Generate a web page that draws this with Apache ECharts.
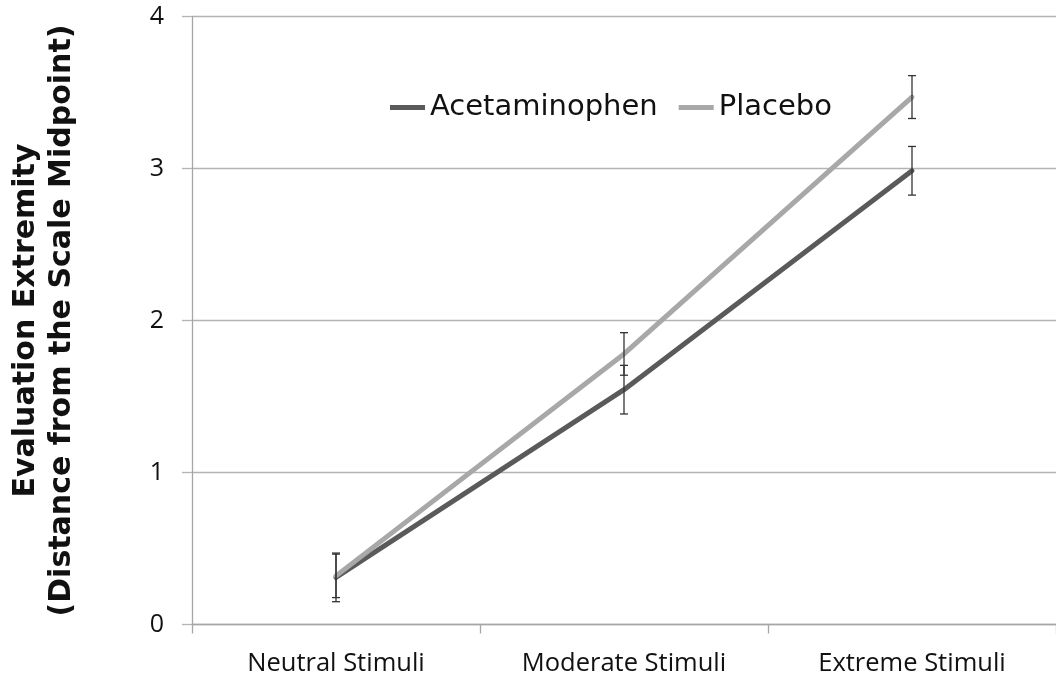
<!DOCTYPE html>
<html>
<head>
<meta charset="utf-8">
<script src="https://cdn.jsdelivr.net/npm/echarts@6/dist/echarts.min.js"></script>
<style>
  html, body { margin: 0; padding: 0; background: #fff; }
  #chart { width: 1056px; height: 681px; }
</style>
</head>
<body>
<div id="chart"></div>
<script>
// Stimulus conditions along the x axis
const categories = ['Neutral Stimuli', 'Moderate Stimuli', 'Extreme Stimuli'];

// Mean evaluation extremity per condition
const acetaminophen = [0.31, 1.545, 2.985];
const placebo = [0.32, 1.78, 3.47];

// Standard errors (drawn as symmetric error bars)
const acetaminophenErr = [0.16, 0.16, 0.16];
const placeboErr = [0.143, 0.14, 0.141];

const seriesNames = ['Acetaminophen', 'Placebo'];
const seriesColors = ['#5a5a5a', '#a8a8a8'];

const chart = echarts.init(document.getElementById('chart'));

function errorData(means, errs) {
  return means.map((m, i) => [i, m - errs[i], m + errs[i]]);
}

function renderErrorBar(params, api) {
  const x = api.value(0);
  const lo = api.coord([x, api.value(1)]);
  const hi = api.coord([x, api.value(2)]);
  const half = 4;
  const style = { stroke: '#333333', lineWidth: 1.3 };
  return {
    type: 'group',
    children: [
      { type: 'line', shape: { x1: hi[0], y1: hi[1], x2: lo[0], y2: lo[1] }, style },
      { type: 'line', shape: { x1: hi[0] - half, y1: hi[1], x2: hi[0] + half, y2: hi[1] }, style },
      { type: 'line', shape: { x1: lo[0] - half, y1: lo[1], x2: lo[0] + half, y2: lo[1] }, style }
    ]
  };
}

const textFont = 'Open Sans';

chart.setOption({
  animation: false,
  backgroundColor: '#ffffff',
  grid: { left: 192, right: -9, top: 16.5, bottom: 56.5, containLabel: false },
  legend: {
    data: seriesNames,
    left: 385,
    top: 88,
    icon: 'rect',
    itemWidth: 35,
    itemHeight: 5,
    itemGap: 21,
    textStyle: { fontFamily: 'DejaVu Sans', fontSize: 29, color: '#111' }
  },
  xAxis: {
    type: 'category',
    data: categories,
    boundaryGap: true,
    axisLine: { lineStyle: { color: '#a6a6a6', width: 1.3 } },
    axisTick: { show: true, length: 9, lineStyle: { color: '#a6a6a6', width: 1.3 } },
    axisLabel: { margin: 26, fontFamily: textFont, fontSize: 25.5, color: '#111' },
    splitLine: { show: false }
  },
  yAxis: {
    type: 'value',
    min: 0,
    max: 4,
    interval: 1,
    name: 'Evaluation Extremity\n(Distance from the Scale Midpoint)',
    nameLocation: 'middle',
    nameRotate: 90,
    nameGap: 112,
    nameTextStyle: { fontFamily: 'DejaVu Sans', fontWeight: 'bold', fontSize: 30, lineHeight: 36, color: '#111' },
    axisLine: { show: true, lineStyle: { color: '#a6a6a6', width: 1.3 } },
    axisTick: { show: true, length: 10, lineStyle: { color: '#b3b3b3', width: 1.3 } },
    axisLabel: { margin: 28, fontFamily: textFont, fontSize: 25, color: '#111' },
    splitLine: { show: true, lineStyle: { color: '#b3b3b3', width: 1.3 } }
  },
  series: [
    {
      name: seriesNames[0],
      type: 'line',
      data: acetaminophen,
      symbol: 'none',
      color: seriesColors[0],
      lineStyle: { width: 5, color: seriesColors[0], cap: 'round', join: 'round' },
      z: 3
    },
    {
      name: seriesNames[1],
      type: 'line',
      data: placebo,
      symbol: 'none',
      color: seriesColors[1],
      lineStyle: { width: 5, color: seriesColors[1], cap: 'round', join: 'round' },
      z: 3
    },
    {
      name: 'acetaminophenErr',
      type: 'custom',
      data: errorData(acetaminophen, acetaminophenErr),
      renderItem: renderErrorBar,
      encode: { x: 0, y: [1, 2] },
      z: 5
    },
    {
      name: 'placeboErr',
      type: 'custom',
      data: errorData(placebo, placeboErr),
      renderItem: renderErrorBar,
      encode: { x: 0, y: [1, 2] },
      z: 5
    }
  ]
});
</script>
</body>
</html>
